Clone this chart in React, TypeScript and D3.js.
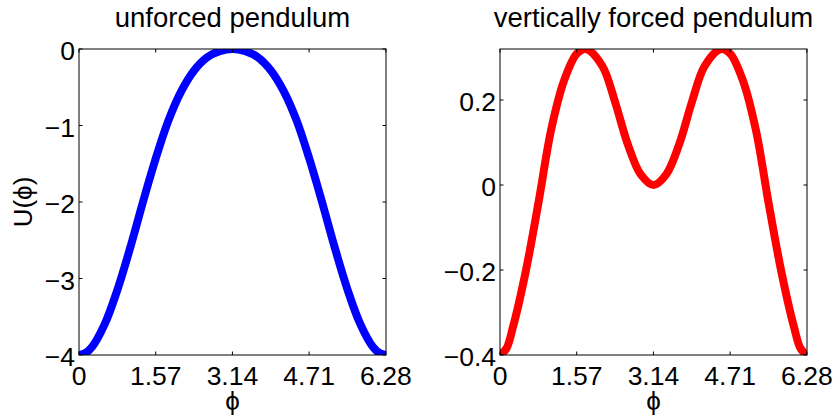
import React from "react";
import * as d3 from "d3";

// Unforced pendulum: phi and U(phi)
const phiLeft = [0, 0.13, 0.262, 0.524, 0.785, 1.047, 1.309, 1.571, 1.833, 2.094, 2.356, 2.618, 2.88, 3.142, 3.403, 3.665, 3.927, 4.189, 4.451, 4.712, 4.974, 5.236, 5.498, 5.76, 6.021, 6.153, 6.283];
const uLeft = [-4, -3.975, -3.9, -3.6, -3.15, -2.6, -2.0, -1.43, -0.93, -0.55, -0.28, -0.11, -0.028, 0, -0.028, -0.11, -0.28, -0.55, -0.93, -1.43, -2.0, -2.6, -3.15, -3.6, -3.9, -3.975, -4];

// Vertically forced pendulum
const phiRight = [0, 0.13, 0.262, 0.524, 0.785, 1.047, 1.309, 1.571, 1.76, 2.094, 2.356, 2.618, 2.88, 3.142, 3.403, 3.665, 3.927, 4.189, 4.523, 4.712, 4.974, 5.236, 5.498, 5.76, 6.021, 6.153, 6.283];
const uRight = [-0.4, -0.385, -0.336, -0.205, -0.043, 0.13, 0.245, 0.309, 0.32, 0.28, 0.195, 0.095, 0.025, 0, 0.025, 0.095, 0.195, 0.28, 0.32, 0.309, 0.245, 0.13, -0.043, -0.205, -0.336, -0.385, -0.4];

const xTicks = [0, 1.57, 3.14, 4.71, 6.28];
const xTickLabels = ["0", "1.57", "3.14", "4.71", "6.28"];
const yTicksLeft = [-4, -3, -2, -1, 0];
const yTickLabelsLeft = ["\u22124", "\u22123", "\u22122", "\u22121", "0"];
const yTicksRight = [-0.4, -0.2, 0, 0.2];
const yTickLabelsRight = ["\u22120.4", "\u22120.2", "0", "0.2"];

const titles = ["unforced pendulum", "vertically forced pendulum"];
const xAxisLabel = "\u03d5";
const yAxisLabel = "U(\u03d5)";

const FONT = "'Liberation Sans', Arial, Helvetica, sans-serif";

type PanelProps = {
  id: string;
  x0: number;
  x1: number;
  y0: number;
  y1: number;
  phi: number[];
  u: number[];
  yDomain: [number, number];
  yTicks: number[];
  yLabels: string[];
  color: string;
  title: string;
  yLabel?: string;
};

function Panel(p: PanelProps) {
  const xs = d3.scaleLinear().domain([0, 2 * Math.PI]).range([p.x0, p.x1]);
  const ys = d3.scaleLinear().domain(p.yDomain).range([p.y1, p.y0]);
  const pts: [number, number][] = p.phi.map((v, i) => [v, p.u[i]]);
  const line = d3
    .line<[number, number]>()
    .x((d) => xs(d[0]))
    .y((d) => ys(d[1]))
    .curve(d3.curveCatmullRom.alpha(0.5));
  const tl = 3.5;
  const cx = (p.x0 + p.x1) / 2;
  const cy = (p.y0 + p.y1) / 2;
  return (
    <g>
      <defs>
        <clipPath id={p.id}>
          <rect x={p.x0} y={p.y0} width={p.x1 - p.x0} height={p.y1 - p.y0} />
        </clipPath>
      </defs>
      <path
        d={line(pts) || ""}
        fill="none"
        stroke={p.color}
        strokeWidth={8}
        strokeLinejoin="round"
        clipPath={`url(#${p.id})`}
      />
      <rect
        x={p.x0}
        y={p.y0}
        width={p.x1 - p.x0}
        height={p.y1 - p.y0}
        fill="none"
        stroke="#000"
        strokeWidth={1}
      />
      {xTicks.map((t, i) => (
        <g key={"xt" + i}>
          <line x1={xs(t)} x2={xs(t)} y1={p.y1} y2={p.y1 - tl} stroke="#000" />
          <line x1={xs(t)} x2={xs(t)} y1={p.y0} y2={p.y0 + tl} stroke="#000" />
          <text
            x={xs(t)}
            y={p.y1 + 30}
            textAnchor="middle"
            fontSize={26.5}
            fontFamily={FONT}
          >
            {xTickLabels[i]}
          </text>
        </g>
      ))}
      {p.yTicks.map((t, i) => (
        <g key={"yt" + i}>
          <line x1={p.x0} x2={p.x0 + tl} y1={ys(t)} y2={ys(t)} stroke="#000" />
          <line x1={p.x1} x2={p.x1 - tl} y1={ys(t)} y2={ys(t)} stroke="#000" />
          <text
            x={p.x0 - 4}
            y={ys(t) + 11}
            textAnchor="end"
            fontSize={26.5}
            fontFamily={FONT}
          >
            {p.yLabels[i]}
          </text>
        </g>
      ))}
      <text x={cx} y={27} textAnchor="middle" fontSize={27.5} fontFamily={FONT}>
        {p.title}
      </text>
      <text x={cx} y={410} textAnchor="middle" fontSize={26} fontFamily={FONT}>
        {xAxisLabel}
      </text>
      {p.yLabel ? (
        <text
          transform={`translate(31.5, ${cy}) rotate(-90)`}
          textAnchor="middle"
          fontSize={26}
          fontFamily={FONT}
        >
          {p.yLabel}
        </text>
      ) : null}
    </g>
  );
}

export default function App() {
  return (
    <svg
      width={836}
      height={419}
      style={{ position: "absolute", left: 0, top: 0, background: "#fff" }}
    >
      <rect x={0} y={0} width={836} height={419} fill="#fff" />
      <Panel
        id="clipL"
        x0={79}
        x1={386}
        y0={49}
        y1={355}
        phi={phiLeft}
        u={uLeft}
        yDomain={[-4, 0]}
        yTicks={yTicksLeft}
        yLabels={yTickLabelsLeft}
        color="#0000ff"
        title={titles[0]}
        yLabel={yAxisLabel}
      />
      <Panel
        id="clipR"
        x0={500}
        x1={807}
        y0={49}
        y1={355}
        phi={phiRight}
        u={uRight}
        yDomain={[-0.4, 0.32]}
        yTicks={yTicksRight}
        yLabels={yTickLabelsRight}
        color="#ff0000"
        title={titles[1]}
      />
    </svg>
  );
}
